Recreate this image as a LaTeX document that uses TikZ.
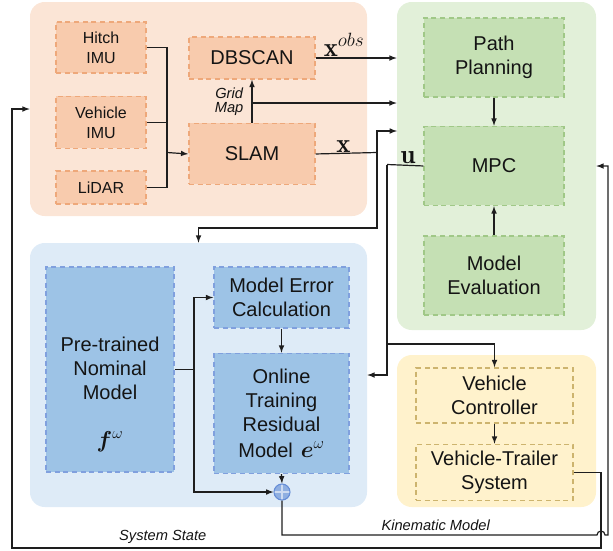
\documentclass[tikz,border=0pt]{standalone}
\usepackage{amsmath}
\usepackage{fontspec}
\newfontfamily\arialfont{Liberation Sans}
\usetikzlibrary{positioning,calc}
\definecolor{colortext}     {RGB}{ 20, 20, 20}
\definecolor{colorline}     {RGB}{ 30, 30, 30}
\definecolor{colorsensebg}  {RGB}{251,229,214}
\definecolor{colorsensebox} {RGB}{248,203,173}
\definecolor{colorsenseedge}{RGB}{238,168,122}
\definecolor{colorctrlbg}   {RGB}{226,240,217}
\definecolor{colorctrlbox}  {RGB}{197,224,180}
\definecolor{colorctrledge} {RGB}{160,200,135}
\definecolor{colormodelbg}  {RGB}{222,235,247}
\definecolor{colormodelbox} {RGB}{157,195,230}
\definecolor{colormodeledge}{RGB}{128,160,222}
\definecolor{colorvehbg}    {RGB}{255,242,204}
\definecolor{colorvehedge}  {RGB}{205,180,110}
\definecolor{colorplus}     {RGB}{143,175,225}
\definecolor{colorplusedge} {RGB}{100,140,215}
\newcommand{\boxfont}{\arialfont\fontsize{15}{18}\selectfont}
\newcommand{\smallboxfont}{\arialfont\fontsize{12}{15}\selectfont}
\newcommand{\bigmath}[1]{{\fontsize{20}{24}\selectfont$#1$}}
\newcommand{\boxmath}[1]{{\fontsize{18}{18}\selectfont$#1$}}

\begin{document}
\begin{tikzpicture}[
    x=0.75pt, y=-0.75pt, >=latex,
    panel/.style={rounded corners=11pt,inner sep=0pt},
    base/.style={draw,dash pattern=on 3.75pt off 2.75pt,line width=1.1pt,inner sep=0pt,align=center,text=colortext,font=\boxfont},
    small/.style={font=\smallboxfont},
    sensor/.style={base,fill=colorsensebox,draw=colorsenseedge},
    ctrl/.style={base,fill=colorctrlbox,draw=colorctrledge},
    model/.style={base,fill=colormodelbox,draw=colormodeledge},
    veh/.style={base,fill=colorvehbg,draw=colorvehedge},
    txt/.style={text=colortext,align=center,inner sep=1pt},
    mathlbl/.style={txt,inner sep=0.5pt},
    note/.style={txt,font={\arialfont\itshape\fontsize{11}{10.5}\selectfont}},
    link/.style={draw=colorline,line width=0.9pt},
    adder/.style={circle,draw=colorplusedge,fill=colorplus,line width=0.8pt,minimum size=12pt,inner sep=0pt,
        path picture={\draw[white!55!colorplus,line width=0.8pt]
            (path picture bounding box.north) -- (path picture bounding box.south)
            (path picture bounding box.west) -- (path picture bounding box.east);}},
]
    \useasboundingbox (0,0) rectangle (613,550);

    % panels
    \node[panel,fill=colorsensebg,minimum width=252.75pt,minimum height=160.5pt] (sensepanel) at (198.5,109) {};
    \node[panel,fill=colorctrlbg,minimum width=149.25pt,minimum height=246pt]   (ctrlpanel)  at (496.5,166) {};
    \node[panel,fill=colormodelbg,minimum width=252.75pt,minimum height=198pt]  (modelpanel) at (198.5,375) {};
    \node[panel,fill=colorvehbg,minimum width=149.25pt,minimum height=114pt]    (vehpanel)   at (496.5,431) {};

    % sensing
    \node[sensor,small,minimum width=67.5pt,minimum height=38.25pt] (hitch) at (101,47.5) {Hitch\\IMU};
    \node[sensor,small,minimum width=67.5pt,minimum height=39pt,below=16.5pt of hitch] (vimu) {Vehicle\\IMU};
    \node[sensor,small,minimum width=67.5pt,minimum height=24.75pt,below=15.75pt of vimu] (lidar) {LiDAR};
    \node[sensor,minimum width=94.5pt,minimum height=31.5pt] (dbscan) at (252,58) {DBSCAN};
    \node[sensor,minimum width=94.5pt,minimum height=45.75pt,below=32.25pt of dbscan] (slam) {SLAM};

    % planning and control
    \node[ctrl,minimum width=105pt,minimum height=59.25pt] (path) at (494,57.5) {Path\\Planning};
    \node[ctrl,minimum width=105pt,minimum height=59.25pt,below=21pt of path] (mpc) {MPC};
    \node[ctrl,minimum width=105pt,minimum height=59.25pt,below=21.75pt of mpc] (eval) {Model\\Evaluation};

    % learned model
    \node[model,minimum width=96pt,minimum height=153.75pt] (pretrained) at (110,369.5) {};
    \node[txt,font=\boxfont] (pretext) at ([yshift=-19pt]pretrained.center)
        {Pre-trained\\Nominal\\Model\\[18pt]\boxmath{\boldsymbol{f}^{\omega}}};
    \node[model,minimum width=101.25pt,minimum height=45.75pt] (mec) at (281.5,297.5) {Model Error\\Calculation};
    \node[model,minimum width=101.25pt,minimum height=90pt,below=18pt of mec] (otrm)
        {Online\\Training\\Residual\\[1pt]Model\hspace{6pt}\boxmath{\boldsymbol{e}^{\omega}}};
    \node[adder] (plus) at (282,492) {};

    % vehicle
    \node[veh,minimum width=117.75pt,minimum height=41.25pt] (vc) at (494.5,395.5) {Vehicle\\Controller};
    \node[veh,minimum width=117.75pt,minimum height=42pt,below=15pt of vc] (vts) {Vehicle-Trailer\\System};

    % bends
    \coordinate (sj)   at (167,152.5);
    \coordinate (gm)   at (252,103);
    \coordinate (xj)   at (377,152.5);
    \coordinate (xin)  at (397,131);
    \coordinate (xdn)  at (377,228);
    \coordinate (uj)   at (387,164.5);
    \coordinate (ub)   at (387,344);
    \coordinate (fb)   at (194,369.5);
    \coordinate (sysr) at (601,548);
    \coordinate (sysl) at (12,548);
    \coordinate (kinl) at (597,535);
    \coordinate (kinr) at (608,535);

    \draw[link] (hitch.east) -| (sj);
    \draw[link] (lidar.east) -| (sj);
    \draw[link] (vimu.east) -- (vimu.east -| sj);
    \draw[link,->] (sj) -- (slam.west);
    \draw[link,->] (slam.north) -- node[note,left=5pt]{Grid\\Map} (dbscan.south);
    \draw[link,->] (gm) -- (gm -| ctrlpanel.west);
    \draw[link,->] (dbscan.east) -- node[mathlbl,above,pos=0.35]{\bigmath{\mathbf{x}^{obs}}} (dbscan.east -| ctrlpanel.west);
    \draw[link] (slam.east) -- node[mathlbl,above,pos=0.45]{\bigmath{\mathbf{x}}} (xj);
    \draw[link,->] (xj) |- (xin);
    \draw[link,->] (xj) -- (xdn) -| (modelpanel.north);

    \draw[link,->] (path.south) -- (mpc.north);
    \draw[link,->] (eval.north) -- (mpc.south);
    \draw[link] (mpc.west) -- node[mathlbl,above,pos=0.42]{\bigmath{\mathbf{u}}} (uj);
    \draw[link,->] (uj) -- (ub) -| (vc.north);
    \draw[link,->] (ub) |- (modelpanel.east);
    \draw[link,->] (vc.south) -- (vts.north);

    \draw[link] (pretrained.east) -- (fb);
    \draw[link,->] (fb) |- (mec.west);
    \draw[link,->] (fb) |- (plus.west);
    \draw[link,->] (mec.south) -- (otrm.north);
    \draw[link,->] (otrm.south) -- (plus.north);

    \draw[link,->] (vts.east) -| (sysr) -- node[note,above=2pt,pos=0.744]{System State} (sysl) |- (sensepanel.west);
    \draw[link,->] (plus.south) |- node[note,above=2pt,pos=0.744]{Kinematic Model} (kinl)
        arc[start angle=180,end angle=0,radius=3pt] -- (kinr) |- (ctrlpanel.east);
\end{tikzpicture}
\end{document}
